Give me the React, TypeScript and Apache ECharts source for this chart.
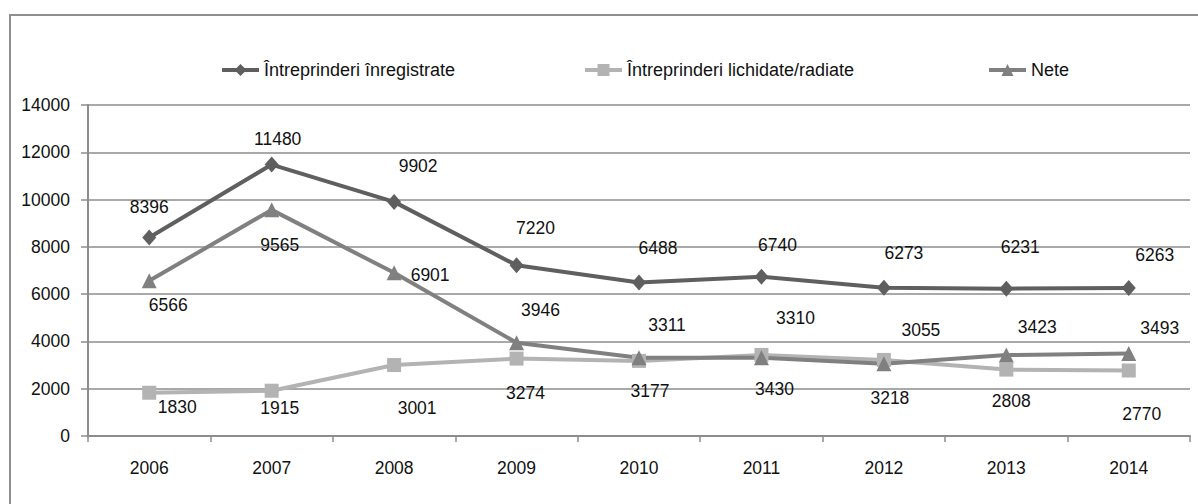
import React, { useEffect, useRef } from "react";
import * as echarts from "echarts";

const years = ["2006", "2007", "2008", "2009", "2010", "2011", "2012", "2013", "2014"];
const registered = [8396, 11480, 9902, 7220, 6488, 6740, 6273, 6231, 6263];
const liquidated = [1830, 1915, 3001, 3274, 3177, 3430, 3218, 2808, 2770];
const net = [6566, 9565, 6901, 3946, 3311, 3310, 3055, 3423, 3493];
const seriesNames = [
  "Întreprinderi înregistrate",
  "Întreprinderi lichidate/radiate",
  "Nete",
];
const yTicks = { min: 0, max: 14000, interval: 2000 };

// label offsets (layout only)
const regOffsets = [[0, -30], [6, -26], [24, -36], [19, -37], [19, -35], [16, -32], [20, -35], [14, -42], [26, -33]];
const liqOffsets = [[28, 14], [8, 17], [23, 43], [9, 34], [11, 30], [13, 34], [6, 38], [5, 31], [13, 43]];
const netOffsets = [[19, 24], [8, 35], [36, 2], [24, -33], [28, -33], [34, -40], [37, -34], [31, -28], [31, -25]];

const FONT = "'Liberation Sans', Arial, sans-serif";

function buildData(values: number[], offsets: number[][]) {
  return values.map((v, i) => ({
    value: v,
    label: { offset: offsets[i] },
  }));
}

export default function App() {
  const ref = useRef<HTMLDivElement>(null);
  useEffect(() => {
    document.body.style.margin = "0";
    const chart = echarts.init(ref.current!, null, { renderer: "svg" });
    const labelBase = {
      show: true,
      position: "inside",
      color: "#111",
      fontFamily: FONT,
      fontSize: 17.5,
    };
    const colors = ["#5f5f5f", "#b3b3b3", "#808080"];
    const legendBase = {
      top: 56,
      itemWidth: 37,
      itemHeight: 15,
      itemGap: 5,
      lineStyle: { width: 4 },
      textStyle: { fontFamily: FONT, fontSize: 18, color: "#111" },
    };
    chart.setOption({
      animation: false,
      color: colors,
      graphic: [
        {
          type: "rect",
          shape: { x: 10, y: 15, width: 1200, height: 500 },
          style: { fill: "none", stroke: "#8f8f8f", lineWidth: 2 },
          silent: true,
        },
      ],
      legend: [
        { ...legendBase, left: 215, data: [seriesNames[0]] },
        { ...legendBase, left: 578, data: [seriesNames[1]] },
        { ...legendBase, left: 982, data: [seriesNames[2]] },
      ],
      grid: { left: 88, right: 8, top: 105, bottom: 68 },
      xAxis: {
        type: "category",
        data: years,
        boundaryGap: true,
        axisLine: { lineStyle: { color: "#8c8c8c", width: 2 } },
        axisTick: { show: true, length: 6, lineStyle: { color: "#8c8c8c", width: 1.5 } },
        axisLabel: { margin: 23, color: "#111", fontFamily: FONT, fontSize: 17.5 },
      },
      yAxis: {
        type: "value",
        min: yTicks.min,
        max: yTicks.max,
        interval: yTicks.interval,
        axisLine: { show: true, lineStyle: { color: "#8c8c8c", width: 2 } },
        axisTick: { show: true, length: 7, lineStyle: { color: "#8c8c8c", width: 1.5 } },
        axisLabel: {
          margin: 18,
          color: "#111",
          fontFamily: FONT,
          fontSize: 17.5,
          formatter: (v: number) => String(v),
        },
        splitLine: { show: true, lineStyle: { color: "#8c8c8c", width: 1.5 } },
      },
      series: [
        {
          name: seriesNames[0],
          type: "line",
          data: buildData(registered, regOffsets),
          symbol: "diamond",
          symbolSize: [14, 16],
          lineStyle: { width: 4, color: colors[0] },
          itemStyle: { color: colors[0] },
          label: labelBase,
        },
        {
          name: seriesNames[1],
          type: "line",
          data: buildData(liquidated, liqOffsets),
          symbol: "rect",
          symbolSize: 14,
          lineStyle: { width: 4, color: colors[1] },
          itemStyle: { color: colors[1] },
          label: labelBase,
        },
        {
          name: seriesNames[2],
          type: "line",
          data: buildData(net, netOffsets),
          symbol: "triangle",
          symbolSize: [15, 15],
          lineStyle: { width: 4, color: colors[2] },
          itemStyle: { color: colors[2] },
          label: labelBase,
        },
      ],
    });
    return () => chart.dispose();
  }, []);
  return <div ref={ref} style={{ width: 1198, height: 504 }} />;
}
